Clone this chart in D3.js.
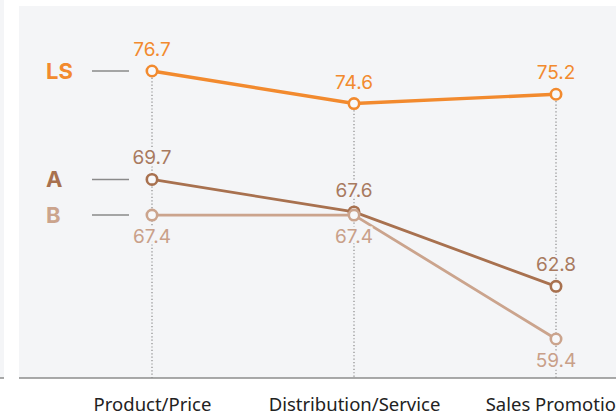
<!DOCTYPE html>
<html>
<head>
<meta charset="utf-8">
<script src="https://cdn.jsdelivr.net/npm/d3@7"></script>
<style>
  html, body { margin: 0; padding: 0; background: #ffffff; }
  svg { display: block; }
</style>
</head>
<body>
<svg id="chart" width="616" height="416"></svg>
<script>
// Categories along the x axis
const categories = ["Product/Price", "Distribution/Service", "Sales Promotion"];

// Series names and scores per category
const seriesNames = ["LS", "A", "B"];
const lsValues = [76.7, 74.6, 75.2];
const aValues = [69.7, 67.6, 62.8];
const bValues = [67.4, 67.4, 59.4];

const seriesColors = ["#f28a2e", "#a8714f", "#cba48d"];
const labelColors = ["#f28a2e", "#a87a5f", "#c9a089"];
const labelSide = ["above", "above", "below"];
const lineWidths = [3.4, 2.8, 2.8];

const series = seriesNames.map((name, i) => ({
  name,
  values: [lsValues, aValues, bValues][i],
  color: seriesColors[i],
  labelColor: labelColors[i],
  side: labelSide[i],
  width: lineWidths[i]
}));

const svg = d3.select("#chart");
const panelFill = "#f4f5f7";
const panel = { left: 19, top: 6, right: 616, bottom: 378 };

// Background panels
svg.append("rect").attr("x", 0).attr("y", 0).attr("width", 4).attr("height", panel.bottom)
  .attr("fill", panelFill);
svg.append("rect").attr("x", panel.left).attr("y", panel.top)
  .attr("width", panel.right - panel.left).attr("height", panel.bottom - panel.top)
  .attr("fill", panelFill);

const x = d3.scalePoint().domain(categories).range([152, 556]);
const y = d3.scaleLinear().domain([59.4, 76.7]).range([339, 71]);

// Baseline axis with category labels
const xAxis = d3.axisBottom(x).tickSize(0).tickPadding(20);
const axisG = svg.append("g").attr("transform", `translate(0,${panel.bottom})`).call(xAxis);
axisG.select(".domain").remove();
axisG.selectAll("text")
  .attr("font-family", "'Noto Sans', 'Open Sans', sans-serif")
  .attr("font-size", 18.5)
  .attr("fill", "#222");
svg.append("line").attr("x1", panel.left).attr("x2", panel.right)
  .attr("y1", panel.bottom).attr("y2", panel.bottom)
  .attr("stroke", "#8c8c8c").attr("stroke-width", 1.5);
svg.append("line").attr("x1", 0).attr("x2", 4)
  .attr("y1", panel.bottom).attr("y2", panel.bottom)
  .attr("stroke", "#8c8c8c").attr("stroke-width", 1.5);

// Dotted drop lines from the highest point in each category
categories.forEach((c, j) => {
  const top = d3.max(series, s => s.values[j]);
  svg.append("line")
    .attr("x1", x(c)).attr("x2", x(c))
    .attr("y1", y(top)).attr("y2", panel.bottom)
    .attr("stroke", "#8a8a8a").attr("stroke-width", 1.2)
    .attr("stroke-dasharray", "1.2,2.2");
});

const line = d3.line().x((d, j) => x(categories[j])).y(d => y(d));

const numFont = "Inter, 'Open Sans', sans-serif";

series.forEach(s => {
  svg.append("path").datum(s.values)
    .attr("d", line)
    .attr("fill", "none")
    .attr("stroke", s.color)
    .attr("stroke-width", s.width);

  svg.selectAll(null).data(s.values).enter().append("circle")
    .attr("cx", (d, j) => x(categories[j]))
    .attr("cy", d => y(d))
    .attr("r", 5.2)
    .attr("fill", "#f7f8fa")
    .attr("stroke", s.color)
    .attr("stroke-width", 2.6);

  // Legend entry aligned with the first point
  const ly = y(s.values[0]);
  svg.append("text")
    .attr("x", 46).attr("y", ly + 8)
    .attr("font-family", numFont)
    .attr("font-weight", 700)
    .attr("font-size", 22)
    .attr("fill", s.color)
    .text(s.name);
  svg.append("line")
    .attr("x1", 92).attr("x2", 129)
    .attr("y1", ly).attr("y2", ly)
    .attr("stroke", "#8a8a8a").attr("stroke-width", 1.4);
});

// Value labels, with a halo that hides the drop lines behind them
series.forEach(s => {
  svg.selectAll(null).data(s.values).enter().append("text")
    .attr("x", (d, j) => x(categories[j]))
    .attr("y", d => s.side === "above" ? y(d) - 15 : y(d) + 28)
    .attr("text-anchor", "middle")
    .attr("font-family", numFont)
    .attr("font-size", 19)
    .attr("fill", s.labelColor)
    .attr("stroke", panelFill)
    .attr("stroke-width", 5)
    .attr("paint-order", "stroke")
    .text(d => d.toFixed(1));
});
</script>
</body>
</html>
